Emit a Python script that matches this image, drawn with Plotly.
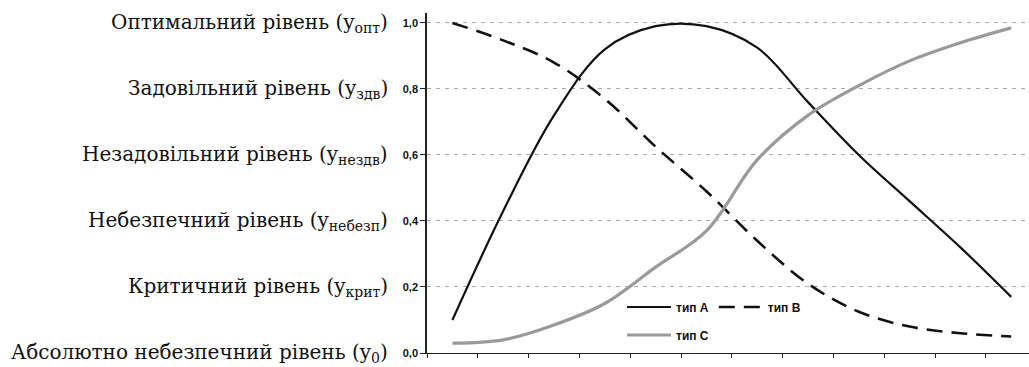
import plotly.graph_objects as go

# ---- data ----
x_points = list(range(12))
type_a = [0.10, 0.43, 0.72, 0.92, 0.99, 0.99, 0.925, 0.76, 0.60, 0.46, 0.32, 0.17]
type_b = [1.00, 0.947, 0.88, 0.77, 0.625, 0.49, 0.34, 0.21, 0.125, 0.08, 0.06, 0.05]
type_c = [0.03, 0.04, 0.085, 0.15, 0.26, 0.37, 0.585, 0.72, 0.81, 0.885, 0.94, 0.985]
series_names = ["тип A", "тип B", "тип C"]
y_tick_vals = [0.0, 0.2, 0.4, 0.6, 0.8, 1.0]
y_tick_text = ["0,0", "0,2", "0,4", "0,6", "0,8", "1,0"]
level_labels = [
    "Абсолютно небезпечний рівень (y<sub>0</sub>)",
    "Критичний рівень (y<sub>крит</sub>)",
    "Небезпечний рівень (y<sub>небезп</sub>)",
    "Незадовільний рівень (y<sub>нездв</sub>)",
    "Задовільний рівень (y<sub>здв</sub>)",
    "Оптимальний рівень (y<sub>опт</sub>)",
]

W, H = 1029, 367
ml, mr, mt, mb = 427, 0, 13, 14
plot_w = W - ml - mr
plot_h = H - mt - mb
cat_px = 50.8

fig = go.Figure()
fig.add_trace(go.Scatter(x=x_points, y=type_a, name=series_names[0], mode="lines",
                         line=dict(color="#111111", width=2.2, shape="spline", smoothing=1.0),
                         legend="legend"))
fig.add_trace(go.Scatter(x=x_points, y=type_b, name=series_names[1], mode="lines",
                         line=dict(color="#111111", width=2.6, dash="16px,9px", shape="spline", smoothing=1.0),
                         legend="legend"))
fig.add_trace(go.Scatter(x=x_points, y=type_c, name=series_names[2], mode="lines",
                         line=dict(color="#9a9a9a", width=3.2, shape="spline", smoothing=1.0),
                         legend="legend2"))

for v, lab in zip(y_tick_vals, level_labels):
    fig.add_annotation(x=(390 - ml) / plot_w, xref="paper", y=v, yref="y",
                       xanchor="right", yanchor="middle", text=lab, showarrow=False,
                       font=dict(family="DejaVu Serif, serif", size=20, color="#111111"))

legend_font = dict(family="Liberation Sans, Arial, sans-serif", size=12, color="#111111", weight="bold")
fig.update_layout(
    width=W, height=H,
    margin=dict(l=ml, r=mr, t=mt, b=mb),
    paper_bgcolor="white", plot_bgcolor="white",
    showlegend=True,
    legend=dict(orientation="h", x=(622 - ml) / plot_w, y=(353 - 307) / plot_h, xanchor="left", yanchor="middle",
                bgcolor="rgba(0,0,0,0)", font=legend_font, itemwidth=44, tracegroupgap=0,
                traceorder="normal"),
    legend2=dict(orientation="h", x=(622 - ml) / plot_w, y=(353 - 335) / plot_h, xanchor="left", yanchor="middle",
                 bgcolor="rgba(0,0,0,0)", font=legend_font, itemwidth=44),
    xaxis=dict(range=[-0.5, -0.5 + plot_w / cat_px], showgrid=False, zeroline=False,
               showline=True, linecolor="#222222", linewidth=1.2,
               ticks="outside", ticklen=4, tickcolor="#222222", tick0=-0.5, dtick=1,
               showticklabels=False),
    yaxis=dict(range=[0, 1.03], tickvals=y_tick_vals, ticktext=y_tick_text,
               showgrid=True, gridcolor="#a8a8a8", griddash="4px,5px", gridwidth=1,
               zeroline=False, showline=True, linecolor="#222222", linewidth=1.5,
               ticks="outside", ticklen=5, tickcolor="#222222",
               tickfont=dict(family="Liberation Sans, Arial, sans-serif", size=11, color="#111111",
                             weight="bold")),
)

fig.write_html("out.html", config={"displayModeBar": False},
               post_script="document.body.style.margin='0px';document.body.style.overflow='hidden';")
